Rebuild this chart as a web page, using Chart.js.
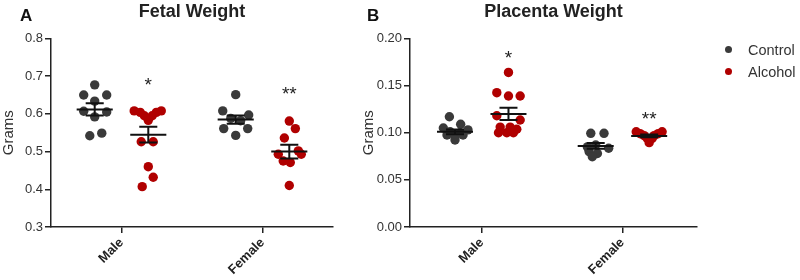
<!DOCTYPE html>
<html>
<head>
<meta charset="utf-8">
<script src="https://cdn.jsdelivr.net/npm/chart.js@4.4.1/dist/chart.umd.min.js"></script>
<style>
  body { margin: 0; background: #fff; font-family: 'Liberation Sans', Arial, sans-serif; }
  #wrap { position: relative; width: 800px; height: 280px; overflow: hidden; }
  canvas { position: absolute; top: 0; }
  .panel { position: absolute; top: 7px; font-size: 17px; line-height: 17px; font-weight: bold; color: #111; }
  .dot { position: absolute; left: 725px; width: 7px; height: 7px; border-radius: 50%; }
  .lab { position: absolute; left: 748px; font-size: 14.5px; line-height: 16px; color: #333; }
</style>
</head>
<body>
<div id="wrap">
  <canvas id="fetal" width="360" height="280" style="left:0"></canvas>
  <canvas id="placenta" width="440" height="280" style="left:360px"></canvas>
  <div class="panel" style="left:20px">A</div>
  <div class="panel" style="left:367px">B</div>
  <div class="dot" style="top:45.5px;background:#3a3a3a"></div>
  <div class="lab" style="top:42px">Control</div>
  <div class="dot" style="top:67.5px;background:#b00000"></div>
  <div class="lab" style="top:64px">Alcohol</div>
</div>
<script>
// Groupes et couleurs
const groups = ["Male", "Female"];
const ctrlColor = "#3a3a3a";
const alcColor = "#b00000";
const ctrlOffset = -0.19;
const alcOffset = 0.19;

// Poids foetal (g), avec le décalage horizontal des points
const fetalCtrlMale = [0.677, 0.650, 0.650, 0.634, 0.607, 0.605, 0.592, 0.549, 0.542];
const fetalCtrlMaleJit = [0, -0.078, 0.085, 0, -0.078, 0.085, 0, 0.05, -0.035];
const fetalAlcMale = [0.608, 0.608, 0.604, 0.604, 0.595, 0.595, 0.583, 0.526, 0.526, 0.460, 0.432, 0.407];
const fetalAlcMaleJit = [-0.1, 0.092, -0.057, 0.057, -0.028, 0.028, 0, -0.05, 0.035, 0, 0.035, -0.043];
const fetalCtrlFemale = [0.651, 0.608, 0.597, 0.588, 0.582, 0.561, 0.561, 0.543];
const fetalCtrlFemaleJit = [0, -0.092, 0.092, -0.035, 0.035, -0.085, 0.085, 0];
const fetalAlcFemale = [0.581, 0.561, 0.536, 0.502, 0.493, 0.493, 0.475, 0.471, 0.410];
const fetalAlcFemaleJit = [0, 0.043, -0.035, 0.064, -0.078, 0.085, -0.043, 0.007, 0];
const fetalCtrlMean = [0.612, 0.585];
const fetalCtrlSem = [0.016, 0.011];
const fetalAlcMean = [0.545, 0.500];
const fetalAlcSem = [0.021, 0.018];
const fetalSig = ["*", "**"];
const fetalSigY = [0.688, 0.664];
const fetalTicks = [0.3, 0.4, 0.5, 0.6, 0.7, 0.8];

// Poids placentaire (g)
const plaCtrlMale = [0.117, 0.109, 0.105, 0.103, 0.101, 0.100, 0.0976, 0.0976, 0.0958, 0.0923];
const plaCtrlMaleJit = [-0.04, 0.04, -0.083, 0.092, -0.035, 0.035, -0.057, 0.057, 0, 0];
const plaAlcMale = [0.164, 0.1425, 0.139, 0.139, 0.118, 0.1135, 0.106, 0.106, 0.1037, 0.100, 0.100, 0.100];
const plaAlcMaleJit = [0, -0.083, 0, 0.083, -0.083, 0.083, -0.059, 0.012, 0.059, -0.071, -0.012, 0.035];
const plaCtrlFemale = [0.0994, 0.0994, 0.087, 0.085, 0.0835, 0.080, 0.078, 0.0746];
const plaCtrlFemaleJit = [-0.035, 0.059, 0, -0.059, 0.092, -0.047, 0.012, -0.024];
const plaAlcFemale = [0.101, 0.101, 0.099, 0.099, 0.097, 0.097, 0.094, 0.094, 0.0895];
const plaAlcFemaleJit = [-0.092, 0.092, -0.064, 0.064, -0.035, 0.035, -0.014, 0.021, 0];
const plaCtrlMean = [0.101, 0.086];
const plaCtrlSem = [0.0025, 0.003];
const plaAlcMean = [0.120, 0.0966];
const plaAlcSem = [0.0065, 0.0015];
const plaSig = ["*", "**"];
const plaSigY = [0.184, 0.1185];
const plaTicks = [0, 0.05, 0.1, 0.15, 0.2];

const fontFamily = "'Liberation Sans', Arial, sans-serif";
Chart.defaults.font.family = fontFamily;
Chart.defaults.color = "#333";

function dots(vals, jits, offset) {
  const pts = [];
  vals.forEach((arr, g) => {
    arr.forEach((v, i) => pts.push({ x: g + 1 + offset + jits[g][i], y: v }));
  });
  return pts;
}

// moyenne +/- SEM : une ligne avec des trous (y null)
function errBars(means, sems, offset) {
  const pts = [];
  means.forEach((m, g) => {
    const c = g + 1 + offset;
    const s = sems[g];
    pts.push(
      { x: c - 0.128, y: m }, { x: c + 0.128, y: m }, { x: c, y: null },
      { x: c, y: m - s }, { x: c, y: m + s }, { x: c, y: null },
      { x: c - 0.064, y: m + s }, { x: c + 0.064, y: m + s }, { x: c, y: null },
      { x: c - 0.064, y: m - s }, { x: c + 0.064, y: m - s }, { x: c, y: null }
    );
  });
  return pts;
}

const sigPlugin = {
  id: "sig",
  afterDatasetsDraw(chart, args, opts) {
    const { ctx } = chart;
    const x = chart.scales.x;
    const y = chart.scales.y;
    ctx.save();
    ctx.font = "19px " + fontFamily;
    ctx.fillStyle = "#222";
    ctx.textAlign = "center";
    ctx.textBaseline = "alphabetic";
    opts.labels.forEach((t, i) => {
      ctx.fillText(t, x.getPixelForValue(i + 1 + alcOffset), y.getPixelForValue(opts.values[i]) + 10);
    });
    ctx.restore();
  },
};

function makeChart(id, cfg) {
  const ctx = document.getElementById(id).getContext("2d");
  return new Chart(ctx, {
    type: "scatter",
    data: {
      datasets: [
        {
          label: "Control",
          data: dots(cfg.ctrl, cfg.ctrlJit, ctrlOffset),
          backgroundColor: ctrlColor,
          pointRadius: 4.7,
          pointHoverRadius: 4.7,
          pointBorderWidth: 0,
          order: 2,
        },
        {
          label: "Alcohol",
          data: dots(cfg.alc, cfg.alcJit, alcOffset),
          backgroundColor: alcColor,
          pointRadius: 4.7,
          pointHoverRadius: 4.7,
          pointBorderWidth: 0,
          order: 1,
        },
        {
          label: "errors",
          data: errBars(cfg.ctrlMean, cfg.ctrlSem, ctrlOffset).concat(errBars(cfg.alcMean, cfg.alcSem, alcOffset)),
          showLine: true,
          spanGaps: false,
          borderColor: "#111",
          borderWidth: 2,
          pointRadius: 0,
          pointHoverRadius: 0,
          order: 0,
        },
      ],
    },
    options: {
      responsive: false,
      animation: false,
      devicePixelRatio: 1,
      layout: { padding: { left: 0, right: cfg.padRight, top: 0, bottom: 0 } },
      plugins: {
        legend: { display: false },
        tooltip: { enabled: false },
        title: {
          display: true,
          text: cfg.title,
          fullSize: false,
          color: "#222",
          font: { size: 18, weight: "bold" },
          padding: { top: 1.1, bottom: 15.8 },
        },
        sig: { labels: cfg.sig, values: cfg.sigY },
      },
      scales: {
        x: {
          type: "linear",
          min: cfg.xMin,
          max: cfg.xMax,
          afterBuildTicks: (s) => {
            s.ticks = groups.map((g, i) => ({ value: i + 1 }));
          },
          ticks: {
            callback: (v) => groups[Math.round(v) - 1],
            minRotation: 45,
            maxRotation: 45,
            padding: 2,
            color: "#222",
            font: { size: 13, weight: "bold" },
          },
          grid: { drawOnChartArea: false, tickLength: 6, color: "#222", lineWidth: 1.5 },
          border: { color: "#222", width: 1.5 },
          afterFit: (s) => {
            s.height = 53;
          },
        },
        y: {
          min: cfg.ticksY[0],
          max: cfg.ticksY[cfg.ticksY.length - 1],
          afterBuildTicks: (s) => {
            s.ticks = cfg.ticksY.map((v) => ({ value: v }));
          },
          ticks: {
            callback: (v) => v.toFixed(cfg.decimals),
            padding: 2,
            color: "#333",
            font: { size: 13 },
          },
          grid: { drawOnChartArea: false, tickLength: 6, color: "#222", lineWidth: 1.5 },
          border: { color: "#222", width: 1.5 },
          title: {
            display: true,
            text: "Grams",
            color: "#333",
            font: { size: 15 },
            padding: { top: 0, bottom: 0 },
          },
          afterFit: (s) => {
            s.width = cfg.yWidth;
          },
        },
      },
    },
    plugins: [sigPlugin],
  });
}

makeChart("fetal", {
  title: "Fetal Weight",
  ctrl: [fetalCtrlMale, fetalCtrlFemale],
  ctrlJit: [fetalCtrlMaleJit, fetalCtrlFemaleJit],
  alc: [fetalAlcMale, fetalAlcFemale],
  alcJit: [fetalAlcMaleJit, fetalAlcFemaleJit],
  ctrlMean: fetalCtrlMean,
  ctrlSem: fetalCtrlSem,
  alcMean: fetalAlcMean,
  alcSem: fetalAlcSem,
  sig: fetalSig,
  sigY: fetalSigY,
  ticksY: fetalTicks,
  decimals: 1,
  xMin: 0.5,
  xMax: 2.5,
  yWidth: 51,
  padRight: 27,
});

makeChart("placenta", {
  title: "Placenta Weight",
  ctrl: [plaCtrlMale, plaCtrlFemale],
  ctrlJit: [plaCtrlMaleJit, plaCtrlFemaleJit],
  alc: [plaAlcMale, plaAlcFemale],
  alcJit: [plaAlcMaleJit, plaAlcFemaleJit],
  ctrlMean: plaCtrlMean,
  ctrlSem: plaCtrlSem,
  alcMean: plaAlcMean,
  alcSem: plaAlcSem,
  sig: plaSig,
  sigY: plaSigY,
  ticksY: plaTicks,
  decimals: 2,
  xMin: 0.49,
  xMax: 2.53,
  yWidth: 50,
  padRight: 103,
});
</script>
</body>
</html>
